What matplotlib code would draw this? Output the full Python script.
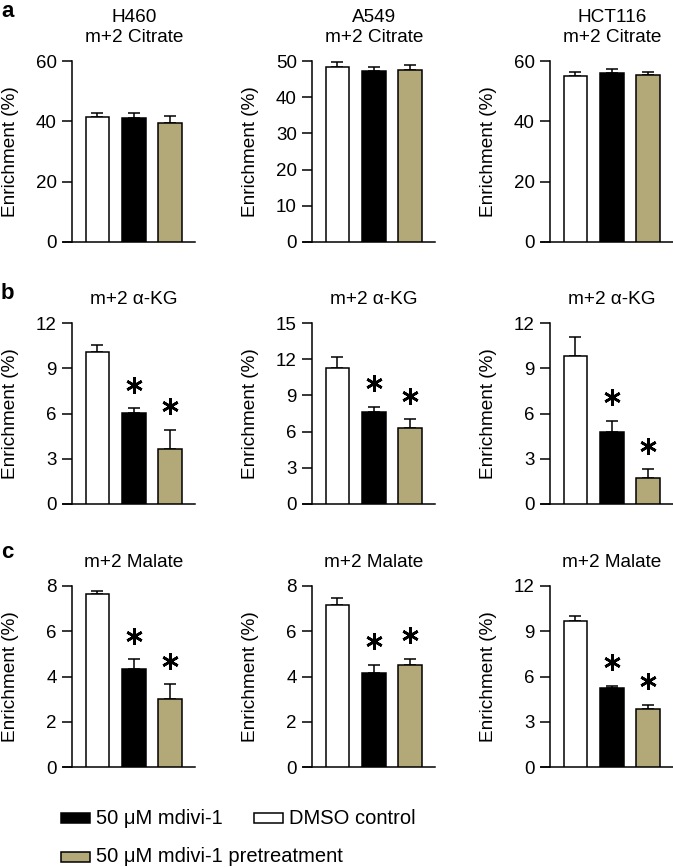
import matplotlib
matplotlib.use("Agg")
import matplotlib.pyplot as plt
import matplotlib.transforms as mtransforms
from matplotlib.patches import Rectangle

plt.rcParams['font.family'] = ['Liberation Sans', 'DejaVu Sans']

# Dados
groups = ["DMSO control", "50 μM mdivi-1", "50 μM mdivi-1 pretreatment"]
cell_lines = ["H460", "A549", "HCT116"]
metabolites = ["m+2 Citrate", "m+2 α-KG", "m+2 Malate"]

citrate_mean = [[41.3, 41.0, 39.3], [48.4, 47.3, 47.5], [54.9, 56.1, 55.4]]
citrate_sem = [[1.4, 1.7, 2.6], [1.3, 1.0, 1.3], [1.3, 1.1, 1.0]]
akg_mean = [[10.06, 6.01, 3.65], [11.23, 7.6, 6.28], [9.83, 4.75, 1.7]]
akg_sem = [[0.48, 0.33, 1.25], [0.96, 0.46, 0.74], [1.22, 0.77, 0.6]]
malate_mean = [[7.63, 4.34, 2.99], [7.14, 4.17, 4.5], [9.65, 5.22, 3.85]]
malate_sem = [[0.17, 0.42, 0.66], [0.31, 0.36, 0.28], [0.35, 0.15, 0.26]]

citrate_sig = [[False, False, False]] * 3
akg_sig = [[False, True, True]] * 3
malate_sig = [[False, True, True]] * 3

citrate_ticks = [[0, 20, 40, 60], [0, 10, 20, 30, 40, 50], [0, 20, 40, 60]]
akg_ticks = [[0, 3, 6, 9, 12], [0, 3, 6, 9, 12, 15], [0, 3, 6, 9, 12]]
malate_ticks = [[0, 2, 4, 6, 8], [0, 2, 4, 6, 8], [0, 3, 6, 9, 12]]

colors = ["white", "black", "#b3a878"]

rows = [
    (citrate_mean, citrate_sem, citrate_sig, citrate_ticks),
    (akg_mean, akg_sem, akg_sig, akg_ticks),
    (malate_mean, malate_sem, malate_sig, malate_ticks),
]

W, H = 673, 867
fig = plt.figure(figsize=(W / 100, H / 100), dpi=100)

col_left = [63, 303, 541]
row_bottom = [242, 504, 767]
ax_w, ax_h = 132, 181
lw = 1.1

x = [0, 1, 2]
star_off = mtransforms.ScaledTranslation(0, 17 / 72, fig.dpi_scale_trans)

for r, (means, sems, sigs, ticks) in enumerate(rows):
    for c in range(3):
        ax = fig.add_axes([col_left[c] / W, (H - row_bottom[r]) / H,
                           ax_w / W, ax_h / H])
        ymax = ticks[c][-1]
        ax.bar(x, means[c], width=0.65, color=colors, edgecolor="black",
               linewidth=lw, zorder=3)
        ax.errorbar(x, means[c], yerr=[[0, 0, 0], sems[c]], fmt="none",
                    ecolor="black", elinewidth=lw, capsize=4.3, capthick=lw,
                    zorder=2, clip_on=False)
        # asteriscos de significância
        for i in range(3):
            if sigs[c][i]:
                ax.plot(x[i], means[c][i] + sems[c][i], marker=(6, 2, 0),
                        markersize=12, mew=1.9, color="black", clip_on=False,
                        transform=ax.transData + star_off)
        ax.set_xlim(-0.95, 2.69)
        ax.set_ylim(0, ymax)
        ax.set_yticks(ticks[c])
        ax.set_xticks([])
        for s in ["top", "right"]:
            ax.spines[s].set_visible(False)
        ax.spines["left"].set_position(("data", -0.70))
        ax.spines["left"].set_bounds(0, ymax)
        ax.spines["left"].set_linewidth(lw)
        ax.spines["bottom"].set_linewidth(lw)
        ax.tick_params(axis="y", direction="out", length=7, width=lw,
                       labelsize=13.5, pad=4)
        ax.set_ylabel("Enrichment (%)", fontsize=13.7)
        ax.yaxis.set_label_coords(-0.335, 0.5)

        trans = mtransforms.blended_transform_factory(ax.transData, ax.transAxes)
        ax.text(1, 1.13, metabolites[r], transform=trans, ha="center",
                va="center", fontsize=13.7)
        if r == 0:
            ax.text(1, 1.24, cell_lines[c], transform=trans, ha="center",
                    va="center", fontsize=13.7)

# letras dos painéis
for letter, ypx in zip(["a", "b", "c"], [17, 299, 558]):
    fig.text(1 / W, (H - ypx) / H, letter, fontsize=16, fontweight="bold",
             ha="left", va="baseline")

# legenda manual
legend_items = [(groups[1], colors[1], 61, 818),
                (groups[0], colors[0], 254, 818),
                (groups[2], colors[2], 61, 857)]
for label, col, xpx, ypx in legend_items:
    fig.patches.append(Rectangle((xpx / W, (H - ypx - 5) / H), 29 / W, 10 / H,
                                 facecolor=col, edgecolor="black", linewidth=lw,
                                 transform=fig.transFigure, figure=fig))
    fig.text((xpx + 35) / W, (H - ypx) / H, label, fontsize=14.5,
             ha="left", va="center")

fig.savefig("out.png", dpi=100)
